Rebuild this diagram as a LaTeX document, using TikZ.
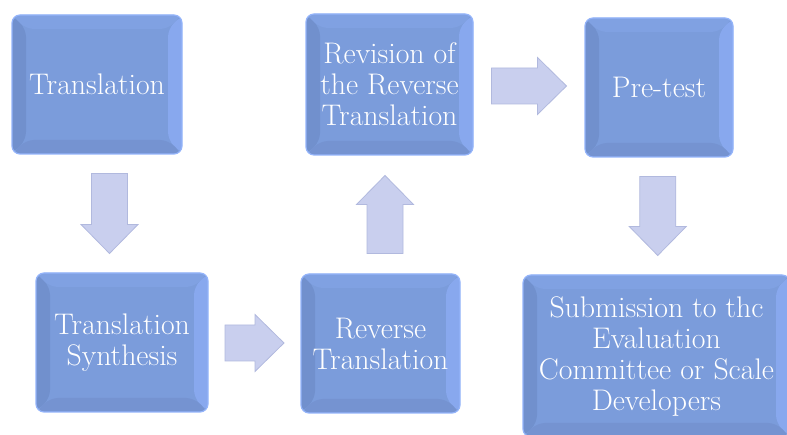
\documentclass[tikz,border=0pt]{standalone}
\usetikzlibrary{calc}

\definecolor{boxface}{HTML}{7B9CDB}
\definecolor{boxleft}{HTML}{7190CD}
\definecolor{boxright}{HTML}{88A8EE}
\definecolor{boxtop}{HTML}{80A1E2}
\definecolor{boxbottom}{HTML}{7593D1}
\definecolor{boxrim}{HTML}{94B4FA}
\definecolor{arrowfill}{HTML}{C9CFEE}
\definecolor{arrowrim}{HTML}{B1B9DE}

\tikzset{
  stepbox/.style={rectangle, rounded corners=8pt, fill=boxface, draw=boxrim, line width=1.2pt,
    text=white, align=center, inner sep=0pt,
    font=\fontsize{29.8}{31}\selectfont,
    path picture={
      \path (path picture bounding box.south west) coordinate (bsw)
            (path picture bounding box.north east) coordinate (bne);
      \fill[boxleft] (bsw) -- (bsw |- bne) -- ($(bsw |- bne)+(14,-14)$) -- ($(bsw)+(14,14)$) -- cycle;
      \fill[boxright] (bne) -- (bne |- bsw) -- ($(bne |- bsw)+(-14,14)$) -- ($(bne)+(-14,-14)$) -- cycle;
      \fill[boxtop] (bsw |- bne) -- (bne) -- ($(bne)+(-14,-14)$) -- ($(bsw |- bne)+(14,-14)$) -- cycle;
      \fill[boxbottom] (bsw) -- (bne |- bsw) -- ($(bne |- bsw)+(-14,14)$) -- ($(bsw)+(14,14)$) -- cycle;
    }},
  pics/blockarrow/.style={code={
    \filldraw[fill=arrowfill, draw=arrowrim, line width=0.8pt]
      (-#1/2,-18) -- ({#1/2-29},-18) -- ({#1/2-29},-28.5) -- (#1/2,0)
      -- ({#1/2-29},28.5) -- ({#1/2-29},18) -- (-#1/2,18) -- cycle;
  }},
}

\begin{document}
\begin{tikzpicture}[x=1pt,y=1pt]

	\useasboundingbox (0,0) rectangle (787,435);
	\clip (0,0) rectangle (787,435);

	\node[stepbox, minimum width=170pt, minimum height=139pt] (trans) at (97,350.5) {Translation};
	\node[stepbox, minimum width=167pt, minimum height=141pt] (revision) at (389.5,350.5) {Revision of\\the Reverse\\Translation};
	\node[stepbox, minimum width=148pt, minimum height=139pt] (pretest) at (659,347.5) {Pre-test};
	\node[stepbox, minimum width=172pt, minimum height=139pt] (synth) at (122,92.5) {Translation\\Synthesis};
	\node[stepbox, minimum width=159pt, minimum height=139pt] (revtrans) at (380.5,91.5) {Reverse\\Translation};
	\node[stepbox, minimum width=267pt, minimum height=162pt] (submit) at (656.5,79) {Submission to thc\\Evaluation\\Committee or Scale\\Developers};

	\pic[rotate=-90] at ($(trans.south)!.5!(synth.north)$) {blockarrow=80};
	\pic at ($(synth.east)!.5!(revtrans.west)$) {blockarrow=59};
	\pic[rotate=90] at ($(revtrans.north)!.5!(revision.south)$) {blockarrow=78};
	\pic at ($(revision.east)!.5!(pretest.west)$) {blockarrow=75};
	\pic[rotate=-90] at ($(pretest.south)!.5!(submit.north)$) {blockarrow=79};

\end{tikzpicture}
\end{document}
